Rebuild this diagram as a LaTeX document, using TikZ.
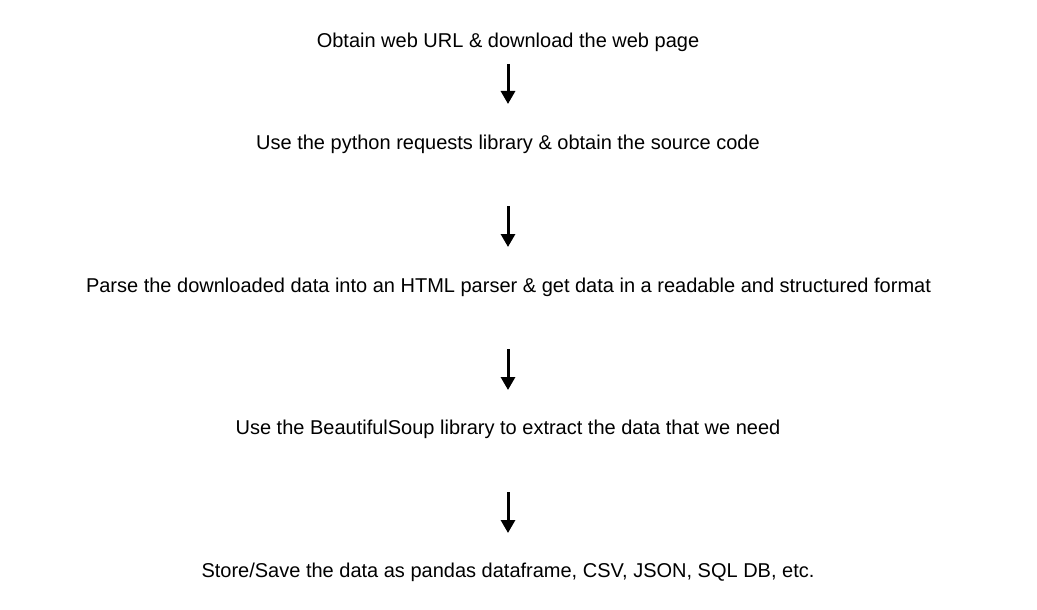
\documentclass[tikz,border=0pt]{standalone}
\usepackage{fontspec}
\setmainfont{Liberation Sans}
\usetikzlibrary{arrows.meta}
\begin{document}
\begin{tikzpicture}[x=1pt,y=-1pt,
  lbl/.style={font=\fontsize{20}{24}\selectfont, inner sep=0pt, anchor=center},
  flow/.style={line width=3pt, -{Triangle[width=14pt,length=13pt]}}]
\useasboundingbox (0,0) rectangle (1037,610);
\node[lbl] (t1) at (508,42) {Obtain web URL \& download the web page};
\node[lbl] (t2) at (508,144) {Use the python requests library \& obtain the source code};
\node[lbl] (t3) at (508.5,287) {Parse the downloaded data into an HTML parser \& get data in a readable and structured format};
\node[lbl] (t4) at (508,429) {Use the BeautifulSoup library to extract the data that we need};
\node[lbl] (t5) at (508,572) {Store/Save the data as pandas dataframe, CSV, JSON, SQL DB, etc.};
\coordinate (a1s) at (508,64); \coordinate (a1e) at (508,104);
\coordinate (a2s) at (508,206); \coordinate (a2e) at (508,247);
\coordinate (a3s) at (508,349); \coordinate (a3e) at (508,390);
\coordinate (a4s) at (508,492); \coordinate (a4e) at (508,533);
\draw[flow] (a1s) -- (a1e);
\draw[flow] (a2s) -- (a2e);
\draw[flow] (a3s) -- (a3e);
\draw[flow] (a4s) -- (a4e);
\end{tikzpicture}
\end{document}
